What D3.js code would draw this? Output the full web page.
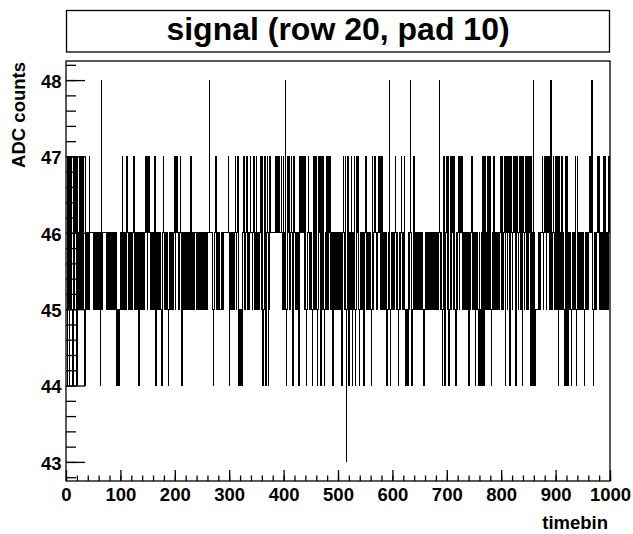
<!DOCTYPE html>
<html><head><meta charset="utf-8">
<script src="https://cdn.jsdelivr.net/npm/d3@7"></script>
<style>
body{margin:0;background:#fff}
svg{display:block}
text{font-family:"Liberation Sans",Arial,Helvetica,sans-serif;font-weight:bold;fill:#000}
</style>
</head><body>
<svg id="chart" width="633" height="534"></svg>
<script>
const titleText = "signal (row 20, pad 10)";
const xAxisTitle = "timebin";
const yAxisTitle = "ADC counts";
const xMajorTicks = [0,100,200,300,400,500,600,700,800,900,1000];
const yMajorTicks = [43,44,45,46,47,48];
const xDomain = [0, 1000];
const yDomain = [42.75, 48.25];
// ADC value of each timebin = adcOffset + digit (50 timebins per row)
const adcOffset = 40;
const adcRows = [
"44575647567547657675476576756765754765665657666666",
"56565655656564586566666665656565565656655645454545",
"56576565565676565665656676565565654565656656566765",
"76676565656567545656565655456765656565456566565667",
"65767656567654565665655656656765655656656565656656",
"56565656565668666665545667656565655665656666666676",
"45656566566765667545455456676566765656676656676565",
"76565667657545675456764576666666666676676676667657",
"65685457676566765457656565654576676676576545676565",
"65545765767545767545765754565765766765654565665656",
"56566564567657535676456576456575457676545656565456",
"67656565655457656676565676676576565656564566854565",
"65656766565456567656567545454565686545676565665656",
"56565655456565665656565655656565656686565545754567",
"65754576576765754565676576676565656565654565667656",
"56456565456456457645765657656765456576565656565676",
"57656674676576754576567667545765676576547656765765",
"76754765486545555556565667656767657667656865667656",
"76575476565765654574754565655456565675457656565656",
"56545656565667668654565656676765656565765765656576"
];
const adcCounts = adcRows.join("").split("").map(c => adcOffset + (+c));

const svg = d3.select("#chart");
const L = 66, R = 610, T = 61, B = 481;
const x = d3.scaleLinear().domain(xDomain).range([L, R]);
const y = d3.scaleLinear().domain(yDomain).range([B, T]);

// title box
svg.append("rect").attr("x", 66.5).attr("y", 10.5).attr("width", 543).attr("height", 41.5)
  .attr("fill", "#fff").attr("stroke", "#000").attr("stroke-width", 1.3);
svg.append("text").attr("x", 338).attr("y", 40).attr("text-anchor", "middle")
  .style("font-size", "32px").text(titleText);

// histogram (step outline)
const pts = adcCounts.map((v, i) => [i, v]);
pts.push([adcCounts.length, adcCounts[adcCounts.length - 1]]);
const line = d3.line().x(d => x(d[0])).y(d => y(d[1])).curve(d3.curveStepAfter);
svg.append("path").attr("d", line(pts)).attr("fill", "none").attr("stroke", "#000")
  .attr("stroke-width", 1).attr("shape-rendering", "crispEdges");

// x axis
const gx = svg.append("g").attr("transform", `translate(0,${B})`);
gx.call(d3.axisBottom(x).tickValues(d3.range(0, 1001, 20)).tickSizeInner(-5.5).tickSizeOuter(0).tickFormat(""));
gx.call(g => g.select(".domain").remove());
const gx2 = svg.append("g").attr("transform", `translate(0,${B})`);
gx2.call(d3.axisBottom(x).tickValues(xMajorTicks).tickSizeInner(-11).tickSizeOuter(0).tickPadding(6.5).tickFormat(d3.format("d")));
gx2.call(g => g.select(".domain").remove());
gx2.selectAll("text").style("font-size", "18.5px");

// y axis
const gy = svg.append("g").attr("transform", `translate(${L},0)`);
gy.call(d3.axisLeft(y).tickValues(d3.range(42.8, 48.21, 0.2)).tickSizeInner(-10).tickSizeOuter(0).tickFormat(""));
gy.call(g => g.select(".domain").remove());
const gy2 = svg.append("g").attr("transform", `translate(${L},0)`);
gy2.call(d3.axisLeft(y).tickValues(yMajorTicks).tickSizeInner(-19).tickSizeOuter(0).tickPadding(4.5).tickFormat(d3.format("d")));
gy2.call(g => g.select(".domain").remove());
gy2.selectAll("text").style("font-size", "18.5px").attr("dy", "0.40em");

svg.selectAll(".tick line").attr("stroke", "#000").attr("stroke-width", 1.3);
svg.selectAll("g").attr("font-family", null).attr("font-size", null);

// frame
svg.append("rect").attr("x", L).attr("y", T).attr("width", R - L).attr("height", B - T)
  .attr("fill", "none").attr("stroke", "#000").attr("stroke-width", 1.3);

// axis titles
svg.append("text").attr("x", 608).attr("y", 529).attr("text-anchor", "end")
  .style("font-size", "18.5px").text(xAxisTitle);
svg.append("text").attr("transform", "translate(25,62) rotate(-90)").attr("text-anchor", "end")
  .style("font-size", "18.5px").text(yAxisTitle);
</script>
</body></html>
